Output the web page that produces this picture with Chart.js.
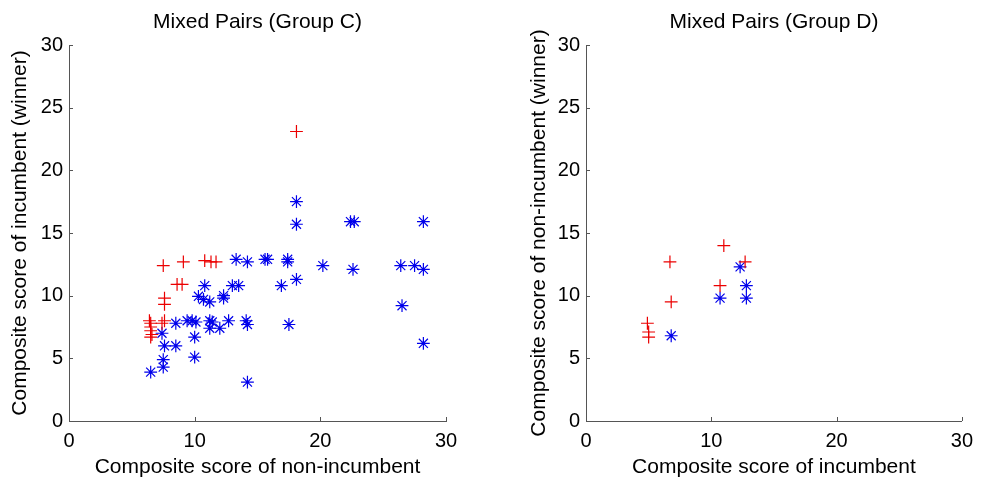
<!DOCTYPE html>
<html>
<head>
<meta charset="utf-8">
<script src="https://cdn.jsdelivr.net/npm/chart.js@4/dist/chart.umd.min.js"></script>
<style>
  html, body { margin: 0; padding: 0; background: #ffffff; }
  #wrap { position: relative; width: 981px; height: 482px; overflow: hidden; }
  #left, #right { position: absolute; top: 0; }
  #left { left: 0; }
  #right { left: 490px; }
</style>
</head>
<body>
<div id="wrap">
  <canvas id="left" width="490" height="482"></canvas>
  <canvas id="right" width="491" height="482"></canvas>
</div>
<script>
// Axis ticks shared by both panels
const xTicks = [0, 10, 20, 30];
const yTicks = [0, 5, 10, 15, 20, 25, 30];

// Group C: "+" markers (red)
const groupCPlusX = [18.1, 7.5, 9.1, 10.8, 11.3, 11.7, 8.6, 9.0, 7.6, 7.6,
                     6.4, 6.5, 6.5, 6.5, 6.6, 6.5, 7.4, 7.6];
const groupCPlusY = [23.1, 12.4, 12.7, 12.8, 12.7, 12.7, 10.9, 10.9, 9.8, 9.3,
                     8.0, 7.8, 7.5, 7.2, 6.9, 6.7, 7.8, 8.0];

// Group C: "*" markers (blue)
const groupCStarX = [6.5, 7.5, 7.5, 7.6, 8.5, 7.4, 8.5, 9.4, 9.8, 10.1,
                     11.2, 11.4, 11.2, 12.0, 12.7, 14.1, 14.2, 17.5, 10.0, 10.0,
                     14.2, 10.3, 10.7, 11.2, 12.3, 12.3, 10.8, 13.0, 13.5, 16.9,
                     18.1, 13.3, 14.2, 15.6, 15.8, 17.4, 17.4, 18.1, 18.1, 22.4,
                     22.7, 28.2, 20.2, 22.6, 26.4, 27.5, 28.2, 26.5, 28.2];
const groupCStarY = [3.9, 4.3, 4.9, 6.0, 6.0, 7.0, 7.8, 8.0, 8.0, 7.9,
                     8.0, 7.9, 7.4, 7.4, 8.0, 8.0, 7.7, 7.7, 6.7, 5.1,
                     3.1, 9.95, 9.7, 9.5, 10.0, 9.8, 10.8, 10.8, 10.8, 10.8,
                     11.3, 12.9, 12.7, 12.9, 12.9, 12.9, 12.7, 15.7, 17.5, 15.9,
                     15.9, 15.9, 12.4, 12.1, 12.4, 12.4, 12.1, 9.2, 6.2];

// Group D: "+" markers (red)
const groupDPlusX = [6.7, 6.8, 11.0, 12.7, 10.7, 4.9, 5.0, 5.0];
const groupDPlusY = [12.7, 9.5, 14.0, 12.7, 10.8, 7.8, 7.1, 6.7];

// Group D: "*" markers (blue)
const groupDStarX = [6.8, 12.3, 10.7, 12.8, 12.8];
const groupDStarY = [6.8, 12.3, 9.8, 9.8, 10.8];

const FAMILY = "'Liberation Sans', Arial, sans-serif";
const TICK_FONT = { family: FAMILY, size: 20 };
const LABEL_FONT = { family: FAMILY, size: 21 };
const AXIS_COLOR = '#555555';

const toPoints = (xs, ys) => xs.map((x, i) => ({ x: x, y: ys[i] }));

// Short tick marks pointing into the plot area, placed by the chart's own scales
const inwardTicks = {
  id: 'inwardTicks',
  afterDraw(chart) {
    const { ctx, chartArea, scales } = chart;
    const len = 4;
    ctx.save();
    ctx.strokeStyle = AXIS_COLOR;
    ctx.lineWidth = 1;
    ctx.beginPath();
    scales.x.ticks.forEach(t => {
      const px = Math.round(scales.x.getPixelForValue(t.value)) + 0.5;
      ctx.moveTo(px, chartArea.bottom);
      ctx.lineTo(px, chartArea.bottom - len);
    });
    scales.y.ticks.forEach(t => {
      const py = Math.round(scales.y.getPixelForValue(t.value)) + 0.5;
      ctx.moveTo(chartArea.left, py);
      ctx.lineTo(chartArea.left + len, py);
    });
    ctx.stroke();
    ctx.restore();
  }
};

function makePanel(canvasId, cfg) {
  const markerWidth = 1.2;
  return new Chart(document.getElementById(canvasId), {
    type: 'scatter',
    data: {
      datasets: [
        {
          label: 'plus',
          data: toPoints(cfg.plusX, cfg.plusY),
          pointStyle: 'cross',
          pointRadius: 6.4,
          pointHoverRadius: 6.4,
          borderColor: 'rgb(235,0,0)',
          backgroundColor: 'rgb(235,0,0)',
          pointBorderWidth: markerWidth
        },
        {
          label: 'star',
          data: toPoints(cfg.starX, cfg.starY),
          pointStyle: 'star',
          pointRadius: 6.4,
          pointHoverRadius: 6.4,
          borderColor: 'rgb(0,0,235)',
          backgroundColor: 'rgb(0,0,235)',
          pointBorderWidth: markerWidth
        }
      ]
    },
    options: {
      responsive: false,
      animation: false,
      devicePixelRatio: 1,
      layout: { padding: { left: 0, top: 0, right: cfg.padRight, bottom: 0 } },
      plugins: {
        legend: { display: false },
        tooltip: { enabled: false },
        title: {
          display: true,
          text: cfg.title,
          fullSize: false,
          color: '#000000',
          font: { family: FAMILY, size: 21, weight: 'normal' },
          padding: { top: 9.4, bottom: 10.4 }
        }
      },
      scales: {
        x: {
          type: 'linear',
          min: 0,
          max: 30,
          afterFit(s) { s.height = 61; },
          afterBuildTicks(s) { s.ticks = xTicks.map(v => ({ value: v })); },
          grid: { display: true, drawOnChartArea: false, drawTicks: false },
          border: { display: true, color: AXIS_COLOR, width: 1 },
          ticks: { color: '#000000', font: TICK_FONT, padding: 8, maxRotation: 0 },
          title: {
            display: true,
            text: cfg.xTitle,
            color: '#000000',
            font: LABEL_FONT,
            padding: { top: 0, bottom: 2.4 }
          }
        },
        y: {
          type: 'linear',
          min: 0,
          max: 30,
          afterFit(s) { s.width = cfg.yWidth; },
          afterBuildTicks(s) { s.ticks = yTicks.map(v => ({ value: v })); },
          grid: { display: true, drawOnChartArea: false, drawTicks: false },
          border: { display: true, color: AXIS_COLOR, width: 1 },
          ticks: { color: '#000000', font: TICK_FONT, padding: 6 },
          title: {
            display: true,
            text: cfg.yTitle,
            color: '#000000',
            font: LABEL_FONT,
            padding: { top: cfg.yTitlePad, bottom: 0 }
          }
        }
      }
    },
    plugins: [inwardTicks]
  });
}

makePanel('left', {
  title: 'Mixed Pairs (Group C)',
  xTitle: 'Composite score of non-incumbent',
  yTitle: 'Composite score of incumbent (winner)',
  plusX: groupCPlusX, plusY: groupCPlusY,
  starX: groupCStarX, starY: groupCStarY,
  yWidth: 69, yTitlePad: 8, padRight: 44
});

makePanel('right', {
  title: 'Mixed Pairs (Group D)',
  xTitle: 'Composite score of incumbent',
  yTitle: 'Composite score of non-incumbent (winner)',
  plusX: groupDPlusX, plusY: groupDPlusY,
  starX: groupDStarX, starY: groupDStarY,
  yWidth: 96, yTitlePad: 36.4, padRight: 18
});
</script>
</body>
</html>
